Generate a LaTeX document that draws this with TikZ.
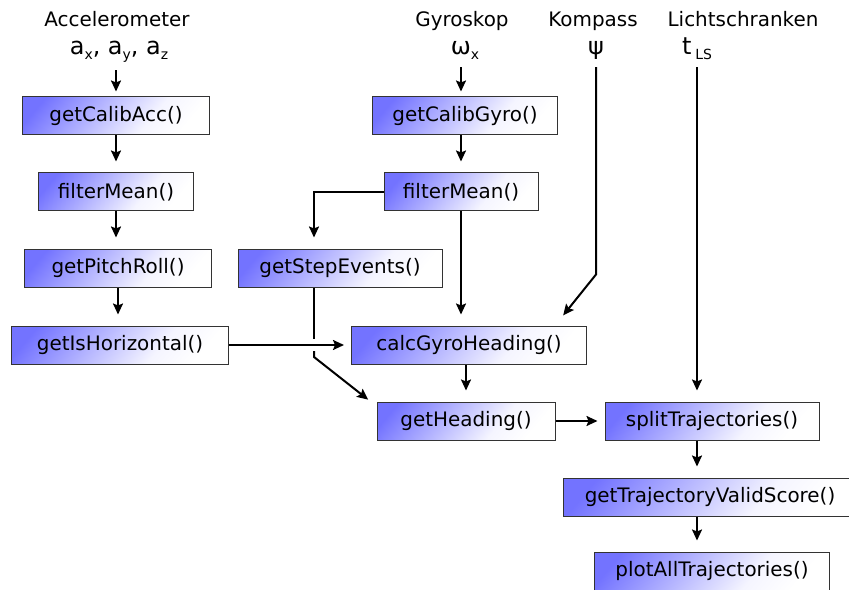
\documentclass[tikz,border=0pt]{standalone}
\usepackage{fontspec}
\setmainfont{DejaVu Sans}
\usetikzlibrary{arrows.meta}
\colorlet{fnblue}{blue!55!white}
\colorlet{fnpale}{blue!4!white}
\pgfdeclarehorizontalshading{fnfade}{100bp}{color(0bp)=(fnblue); color(22bp)=(fnblue); color(62bp)=(fnpale); color(75bp)=(white); color(100bp)=(white)}
\newcommand{\lowsub}[1]{{\fontsize{14}{14}\selectfont\raisebox{-5pt}{#1}}}
\tikzset{
  fn/.style={rectangle, draw=black!80, line width=1bp, shading=fnfade, shading angle=-40, minimum height=38bp, inner sep=0pt, font=\fontsize{20}{24}\selectfont},
  hdr/.style={anchor=base, inner sep=0pt, font=\fontsize{20}{24}\selectfont},
  sym/.style={anchor=base, inner sep=0pt, font=\fontsize{24}{28}\selectfont},
  flow/.style={-{Stealth[length=11bp,width=10bp,inset=2bp]}, line width=2bp, shorten >=11bp},
  hflow/.style={flow, shorten >=7bp}
}
\begin{document}
\begin{tikzpicture}[x=1bp,y=-1bp]
 \useasboundingbox (0,0) rectangle (849,590);

 % sensors
 \node at (117,27) [hdr] (accL) {Accelerometer};
 \node at (119,55) [sym] (accV) {a\lowsub{x}, a\lowsub{y}, a\lowsub{z}};
 \node at (462,27) [hdr] (gyrL) {Gyroskop};
 \node at (465,55) [sym] (gyrV) {ω\lowsub{x}};
 \node at (593,27) [hdr] (kmpL) {Kompass};
 \node at (596,55) [sym] (kmpV) {ψ};
 \node at (743,27) [hdr] (lsL) {Lichtschranken};
 \node at (697,55) [sym] (lsV) {t\,\lowsub{LS}};

 % functions
 \node at (116,116) [fn,minimum width=186bp] (acc) {getCalibAcc()};
 \node at (116,192) [fn,minimum width=155bp] (fmA) {filterMean()};
 \node at (118,268) [fn,minimum width=187bp] (pitch) {getPitchRoll()};
 \node at (120,345) [fn,minimum width=216bp] (horiz) {getIsHorizontal()};
 \node at (465,116) [fn,minimum width=185bp] (gyro) {getCalibGyro()};
 \node at (461,192) [fn,minimum width=154bp] (fmB) {filterMean()};
 \node at (340,268) [fn,minimum width=204bp] (step) {getStepEvents()};
 \node at (469,345) [fn,minimum width=235bp] (calc) {calcGyroHeading()};
 \node at (466,421) [fn,minimum width=178bp] (head) {getHeading()};
 \node at (712,421) [fn,minimum width=214bp] (split) {splitTrajectories()};
 \node at (710,497) [fn,minimum width=293bp] (score) {getTrajectoryValidScore()};
 \node at (712,571) [fn,minimum width=235bp] (plot) {plotAllTrajectories()};

 % accelerometer chain
 \draw[flow,shorten <=7bp,shorten >=5bp] (acc.north |- accV.south) -- (acc.north);
 \draw[flow] (acc.south) -- (acc.south |- fmA.north);
 \draw[flow] (fmA.south) -- (fmA.south |- pitch.north);
 \draw[flow] (pitch.south) -- (pitch.south |- horiz.north);
 \draw[hflow] (horiz.east) -- (calc.west);

 % gyro chain
 \draw[flow,shorten <=7bp,shorten >=5bp] (fmB.north |- gyrV.south) -- (fmB.north |- gyro.north);
 \draw[flow] (fmB.north |- gyro.south) -- (fmB.north);
 \draw[flow] (fmB.west) -| ([xshift=-26bp]step.north);
 \draw[flow] (fmB.south) -- (fmB.south |- calc.north);
 \draw[flow] (head.north |- calc.south) -- (head.north);

 % step events, jumping the horizontal line
 \coordinate (jmp) at ([xshift=-26bp]step.south |- horiz.east);
 \draw[line width=2bp] ([xshift=-26bp]step.south) -- ([yshift=6bp]jmp);
 \draw[flow,shorten >=3bp] ([yshift=-6bp]jmp) -- ([yshift=-12bp]jmp) -- ([xshift=-6bp]head.north west);

 % compass and light barrier
 \draw[flow,shorten <=7bp,shorten >=13bp] (kmpV.south) -- ([xshift=9bp,yshift=51bp]calc.north east) -- ([xshift=-32bp]calc.north east);
 \draw[flow,shorten <=7bp] (lsV.south) -- (lsV.south |- split.north);
 \draw[hflow] (head.east) -- (split.west);
 \draw[flow] (lsV |- split.south) -- (lsV |- score.north);
 \draw[flow] (lsV |- score.south) -- (lsV |- plot.north);
\end{tikzpicture}
\end{document}
